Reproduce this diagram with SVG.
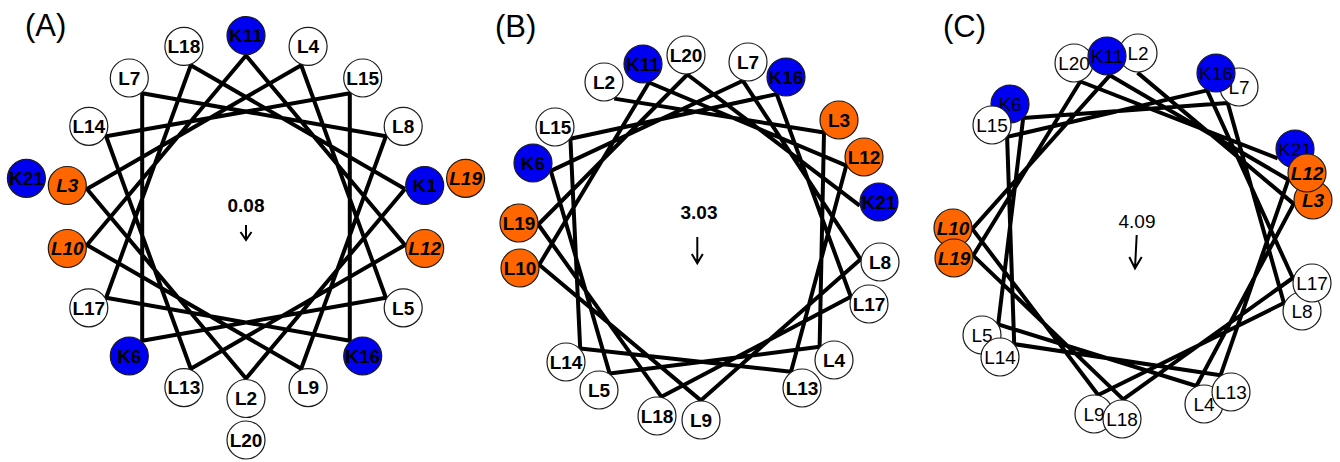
<svg xmlns="http://www.w3.org/2000/svg" width="1340" height="462" viewBox="0 0 1340 462">
<style>
.node circle{stroke:#1a1a1a;stroke-width:1.2}
.w{fill:#ffffff}.b{fill:#0000f0}.o{fill:#ff6600}
.node text{font-family:"Liberation Sans",Arial,sans-serif;font-size:19px;font-weight:bold;text-anchor:middle;fill:#000}
.node text.i{font-style:italic}
.reg text{font-weight:normal}
.reg text.i{font-weight:bold}
.conn{fill:none;stroke:#000;stroke-width:4;stroke-linejoin:round}
.lbl{font-family:"Liberation Sans",Arial,sans-serif;font-size:31px;fill:#000}
.num{font-family:"Liberation Sans",Arial,sans-serif;font-size:19px;text-anchor:middle;fill:#000}
.arr{fill:none;stroke:#000;stroke-width:2}
</style>
<rect width="1340" height="462" fill="#fff"/>
<text class="lbl" x="25" y="36">(A)</text>
<text class="lbl" x="495" y="37">(B)</text>
<text class="lbl" x="943" y="37">(C)</text>

<g id="connectors">
<polyline class="conn" points="405.0,189.0 246,378.5 86.95,189.0 301.2,65.2 385.9,297.8 142.2,340.7 142.2,93.3 385.9,136.3 301.2,368.8 86.95,245.0 246,55.5 405.0,245.0 190.8,368.8 106.1,136.3 349.8,93.3 349.8,340.7 106.1,297.8 190.8,65.2 405.0,189.0"/>
<polyline class="conn" points="614.2,98.6 824.0,132.5 819.6,346.8 609.7,373.6 550.8,170.9 742.8,80.7 860.6,259.3 700.8,400.4 539.2,264.7 649.0,82.5 846.3,165.6 791.0,371.8 580.2,348.6 570.4,138.8 776.7,94.1 850.8,296.8 661.5,396.8 538.3,224.5 687.4,74.5 859.7,205.7"/>
<polyline class="conn" points="1137.5,72.6 1293.7,203.9 1196.4,386.0 998.2,324.4 1023.2,118.1 1227.7,102.9 1283.9,303.0 1098.2,395.0 972.3,228.9 1109.8,75.3 1288.4,179.7 1220.5,375.3 1014.2,344.1 1007.1,136.9 1207.1,90.4 1292.8,278.0 1123.2,399.4 973.2,255.6 1080.3,81.5 1277.7,158.3"/>
<path class="arr" d="M246,225 V240 M240.5,232 L246,240 L251.5,232"/>
<path class="arr" d="M697.3,237 V263.3 M691.8,254 L697.3,263.3 L702.8,254"/>
<path class="arr" d="M1136.7,235 L1135,268.3 M1129.3,257 L1135,268.3 L1141.7,257"/>
</g>

<text class="num" x="246" y="212" font-weight="bold">0.08</text>
<text class="num" x="699" y="219" font-weight="bold">3.03</text>
<text class="num" x="1137" y="228">4.09</text>

<g id="panelA">
<g id="A-K1" class="node"><circle cx="424.7" cy="185.5" r="19" class="b"/><text x="424.7" y="192.2">K1</text></g>
<g id="A-L2" class="node"><circle cx="246" cy="398.5" r="19" class="w"/><text x="246" y="405.2">L2</text></g>
<g id="A-L3" class="node"><circle cx="67.3" cy="185.5" r="19" class="o"/><text class="i" x="67.3" y="192.2">L3</text></g>
<g id="A-L4" class="node"><circle cx="308.1" cy="46.4" r="19" class="w"/><text x="308.1" y="53.1">L4</text></g>
<g id="A-L5" class="node"><circle cx="403.2" cy="307.8" r="19" class="w"/><text x="403.2" y="314.5">L5</text></g>
<g id="A-K6" class="node"><circle cx="129.3" cy="356" r="19" class="b"/><text x="129.3" y="362.7">K6</text></g>
<g id="A-L7" class="node"><circle cx="129.3" cy="78" r="19" class="w"/><text x="129.3" y="84.7">L7</text></g>
<g id="A-L8" class="node"><circle cx="403.2" cy="126.3" r="19" class="w"/><text x="403.2" y="133">L8</text></g>
<g id="A-L9" class="node"><circle cx="308.1" cy="387.6" r="19" class="w"/><text x="308.1" y="394.3">L9</text></g>
<g id="A-L10" class="node"><circle cx="67.3" cy="248.5" r="19" class="o"/><text class="i" x="67.3" y="255.2">L10</text></g>
<g id="A-K11" class="node"><circle cx="246" cy="35.5" r="19" class="b"/><text x="246" y="42.2">K11</text></g>
<g id="A-L12" class="node"><circle cx="424.7" cy="248.5" r="19" class="o"/><text class="i" x="424.7" y="255.2">L12</text></g>
<g id="A-L13" class="node"><circle cx="183.9" cy="387.6" r="19" class="w"/><text x="183.9" y="394.3">L13</text></g>
<g id="A-L14" class="node"><circle cx="88.8" cy="126.3" r="19" class="w"/><text x="88.8" y="133">L14</text></g>
<g id="A-L15" class="node"><circle cx="362.7" cy="78" r="19" class="w"/><text x="362.7" y="84.7">L15</text></g>
<g id="A-K16" class="node"><circle cx="362.7" cy="356" r="19" class="b"/><text x="362.7" y="362.7">K16</text></g>
<g id="A-L17" class="node"><circle cx="88.8" cy="307.8" r="19" class="w"/><text x="88.8" y="314.5">L17</text></g>
<g id="A-L18" class="node"><circle cx="183.9" cy="46.4" r="19" class="w"/><text x="183.9" y="53.1">L18</text></g>
<g id="A-L19" class="node"><circle cx="465.6" cy="178.3" r="19" class="o"/><text class="i" x="465.6" y="185">L19</text></g>
<g id="A-L20" class="node"><circle cx="246" cy="440" r="19" class="w"/><text x="246" y="446.7">L20</text></g>
<g id="A-K21" class="node"><circle cx="26.4" cy="178.3" r="19" class="b"/><text x="26.4" y="185">K21</text></g>
</g>

<g id="panelB">
<g id="B-L2" class="node"><circle cx="604" cy="82" r="19" class="w"/><text x="604" y="88.7">L2</text></g>
<g id="B-L3" class="node"><circle cx="839" cy="120" r="19" class="o"/><text x="839" y="126.7">L3</text></g>
<g id="B-L4" class="node"><circle cx="834" cy="360" r="19" class="w"/><text x="834" y="366.7">L4</text></g>
<g id="B-L5" class="node"><circle cx="599" cy="390" r="19" class="w"/><text x="599" y="396.7">L5</text></g>
<g id="B-K6" class="node"><circle cx="533" cy="163" r="19" class="b"/><text x="533" y="169.7">K6</text></g>
<g id="B-L7" class="node"><circle cx="748" cy="62" r="19" class="w"/><text x="748" y="68.7">L7</text></g>
<g id="B-L8" class="node"><circle cx="880" cy="262" r="19" class="w"/><text x="880" y="268.7">L8</text></g>
<g id="B-L9" class="node"><circle cx="701" cy="420" r="19" class="w"/><text x="701" y="426.7">L9</text></g>
<g id="B-L10" class="node"><circle cx="520" cy="268" r="19" class="o"/><text x="520" y="274.7">L10</text></g>
<g id="B-K11" class="node"><circle cx="643" cy="64" r="19" class="b"/><text x="643" y="70.7">K11</text></g>
<g id="B-L12" class="node"><circle cx="864" cy="157" r="19" class="o"/><text x="864" y="163.7">L12</text></g>
<g id="B-L13" class="node"><circle cx="802" cy="388" r="19" class="w"/><text x="802" y="394.7">L13</text></g>
<g id="B-L14" class="node"><circle cx="566" cy="362" r="19" class="w"/><text x="566" y="368.7">L14</text></g>
<g id="B-L15" class="node"><circle cx="555" cy="127" r="19" class="w"/><text x="555" y="133.7">L15</text></g>
<g id="B-K16" class="node"><circle cx="786" cy="77" r="19" class="b"/><text x="786" y="83.7">K16</text></g>
<g id="B-L17" class="node"><circle cx="869" cy="304" r="19" class="w"/><text x="869" y="310.7">L17</text></g>
<g id="B-L18" class="node"><circle cx="657" cy="416" r="19" class="w"/><text x="657" y="422.7">L18</text></g>
<g id="B-L19" class="node"><circle cx="519" cy="223" r="19" class="o"/><text x="519" y="229.7">L19</text></g>
<g id="B-L20" class="node"><circle cx="686" cy="55" r="19" class="w"/><text x="686" y="61.7">L20</text></g>
<g id="B-K21" class="node"><circle cx="879" cy="202" r="19" class="b"/><text x="879" y="208.7">K21</text></g>
</g>

<g id="panelC" class="reg">
<g id="C-L20" class="node"><circle cx="1074" cy="63" r="19" class="w"/><text x="1074" y="69.7">L20</text></g>
<g id="C-K21" class="node"><circle cx="1295" cy="149" r="19" class="b"/><text x="1295" y="155.7">K21</text></g>
<g id="C-L2" class="node"><circle cx="1138" cy="53" r="19" class="w"/><text x="1138" y="59.7">L2</text></g>
<g id="C-L3" class="node"><circle cx="1313" cy="200" r="19" class="o"/><text class="i" x="1313" y="206.7">L3</text></g>
<g id="C-L4" class="node"><circle cx="1204" cy="404" r="19" class="w"/><text x="1204" y="410.7">L4</text></g>
<g id="C-L5" class="node"><circle cx="982" cy="335" r="19" class="w"/><text x="982" y="341.7">L5</text></g>
<g id="C-K6" class="node"><circle cx="1010" cy="104" r="19" class="b"/><text x="1010" y="110.7">K6</text></g>
<g id="C-L7" class="node"><circle cx="1239" cy="87" r="19" class="w"/><text x="1239" y="93.7">L7</text></g>
<g id="C-L8" class="node"><circle cx="1302" cy="311" r="19" class="w"/><text x="1302" y="317.7">L8</text></g>
<g id="C-L9" class="node"><circle cx="1094" cy="414" r="19" class="w"/><text x="1094" y="420.7">L9</text></g>
<g id="C-L10" class="node"><circle cx="953" cy="228" r="19" class="o"/><text class="i" x="953" y="234.7">L10</text></g>
<g id="C-K11" class="node"><circle cx="1107" cy="56" r="19" class="b"/><text x="1107" y="62.7">K11</text></g>
<g id="C-L12" class="node"><circle cx="1307" cy="173" r="19" class="o"/><text class="i" x="1307" y="179.7">L12</text></g>
<g id="C-L13" class="node"><circle cx="1231" cy="392" r="19" class="w"/><text x="1231" y="398.7">L13</text></g>
<g id="C-L14" class="node"><circle cx="1000" cy="357" r="19" class="w"/><text x="1000" y="363.7">L14</text></g>
<g id="C-L15" class="node"><circle cx="992" cy="125" r="19" class="w"/><text x="992" y="131.7">L15</text></g>
<g id="C-K16" class="node"><circle cx="1216" cy="73" r="19" class="b"/><text x="1216" y="79.7">K16</text></g>
<g id="C-L17" class="node"><circle cx="1312" cy="283" r="19" class="w"/><text x="1312" y="289.7">L17</text></g>
<g id="C-L18" class="node"><circle cx="1122" cy="419" r="19" class="w"/><text x="1122" y="425.7">L18</text></g>
<g id="C-L19" class="node"><circle cx="954" cy="258" r="19" class="o"/><text class="i" x="954" y="264.7">L19</text></g>
</g>
</svg>
